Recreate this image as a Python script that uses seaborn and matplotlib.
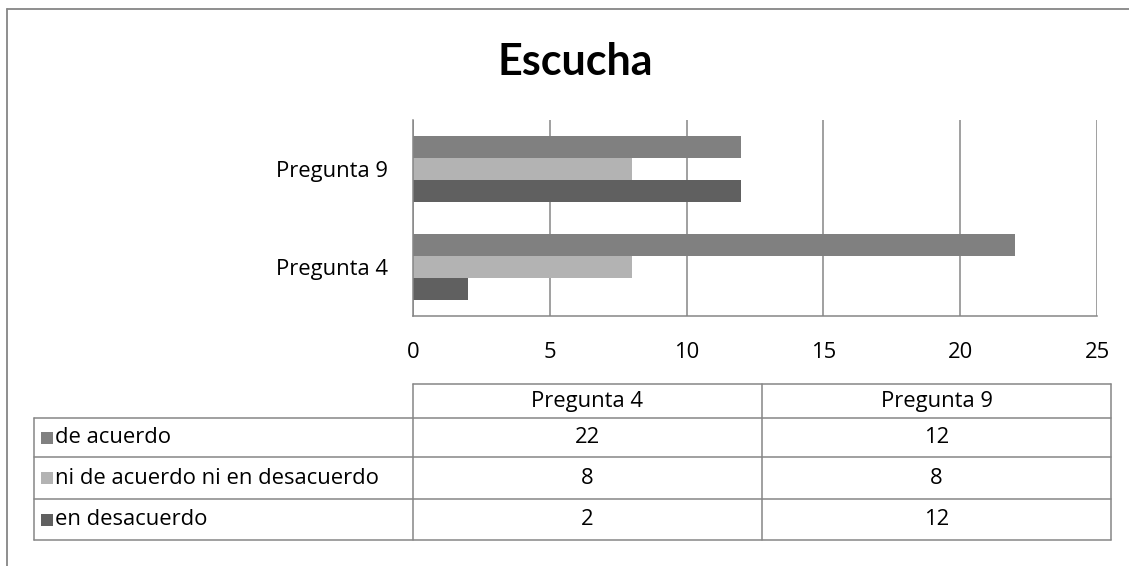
import matplotlib
matplotlib.use("Agg")
import matplotlib.pyplot as plt
from matplotlib.lines import Line2D
from matplotlib.patches import Rectangle
import seaborn as sns
import pandas as pd

# ---- data ----
questions = ["Pregunta 4", "Pregunta 9"]
series = ["de acuerdo", "ni de acuerdo ni en desacuerdo", "en desacuerdo"]
de_acuerdo = [22, 12]
ni_de_acuerdo = [8, 8]
en_desacuerdo = [2, 12]
values = [de_acuerdo, ni_de_acuerdo, en_desacuerdo]
colors = ["#808080", "#b3b3b3", "#606060"]
xticks = [0, 5, 10, 15, 20, 25]
title = "Escucha"

rows = []
for s, vals in zip(series, values):
    for q, v in zip(questions, vals):
        rows.append({"pregunta": q, "serie": s, "valor": v})
df = pd.DataFrame(rows)

sns.set_theme(style="white")
plt.rcParams["font.family"] = ["Open Sans", "DejaVu Sans"]

W, H = 1129, 566
fig = plt.figure(figsize=(W / 100, H / 100), dpi=100)
fig.patch.set_facecolor("white")

def fx(x):
    return x / W

def fy(y):
    return 1 - y / H

GRID = "#868686"
FS = 15.8

# axes: pixel box x 413-1097, y 120-316
ax = fig.add_axes([fx(413), fy(316), fx(1097) - fx(413), (316 - 120) / H])
sns.barplot(data=df, y="pregunta", x="valor", hue="serie",
            order=questions[::-1], hue_order=series, palette=colors,
            orient="h", width=0.67, ax=ax, saturation=1, linewidth=0,
            legend=False)
ax.set_xlim(0, 25)
ax.set_ylim(1.5, -0.5)
ax.set_xticks(xticks)
ax.set_xticklabels([str(t) for t in xticks], fontsize=FS, color="black")
ax.tick_params(axis="x", length=0, pad=19)
ax.tick_params(axis="y", length=0, pad=18, labelsize=FS, labelcolor="black")
ax.set_xlabel("")
ax.set_ylabel("")
ax.grid(axis="x", color=GRID, linewidth=1.1)
ax.set_axisbelow(True)
for side in ["top", "right"]:
    ax.spines[side].set_visible(False)
for side in ["left", "bottom"]:
    ax.spines[side].set_color(GRID)
    ax.spines[side].set_linewidth(1.1)
ax.set_facecolor("white")

# title
fig.text(fx(575), fy(62), title, ha="center", va="center",
         fontsize=31, fontweight="bold", color="black",
         family=["Lato", "DejaVu Sans"])

# outer chart border (left and top)
fig.add_artist(Line2D([fx(7), fx(7)], [fy(9), fy(566)], color=GRID, lw=1.3))
fig.add_artist(Line2D([fx(7), fx(1129)], [fy(9), fy(9)], color=GRID, lw=1.3))

# data table
x_left, x_c1, x_c2, x_right = 34, 413, 762, 1111
y_head_top, y_head_bot = 384, 418
row_lines = [418, 457, 499, 540]
lw = 1.1

def hline(x0, x1, y):
    fig.add_artist(Line2D([fx(x0), fx(x1)], [fy(y), fy(y)], color=GRID, lw=lw))

def vline(x, y0, y1):
    fig.add_artist(Line2D([fx(x), fx(x)], [fy(y0), fy(y1)], color=GRID, lw=lw))

hline(x_c1, x_right, y_head_top)
for y in row_lines:
    hline(x_left, x_right, y)
vline(x_left, row_lines[0], row_lines[-1])
vline(x_c1, y_head_top, row_lines[-1])
vline(x_c2, y_head_top, row_lines[-1])
vline(x_right, y_head_top, row_lines[-1])

col_centers = [(x_c1 + x_c2) / 2, (x_c2 + x_right) / 2]
for q, cx in zip(questions, col_centers):
    fig.text(fx(cx), fy((y_head_top + y_head_bot) / 2), q, ha="center",
             va="center", fontsize=FS, color="black")

for i, (s, vals, c) in enumerate(zip(series, values, colors)):
    y0, y1 = row_lines[i], row_lines[i + 1]
    cy = (y0 + y1) / 2
    sq = 12
    fig.add_artist(Rectangle((fx(41), fy(cy + sq / 2)), sq / W, sq / H,
                             transform=fig.transFigure, color=c, lw=0))
    fig.text(fx(55), fy(cy), s, ha="left", va="center", fontsize=FS,
             color="black")
    for v, cx in zip(vals, col_centers):
        fig.text(fx(cx), fy(cy), str(v), ha="center", va="center",
                 fontsize=FS, color="black")

fig.savefig("out.png", dpi=100, facecolor="white")
